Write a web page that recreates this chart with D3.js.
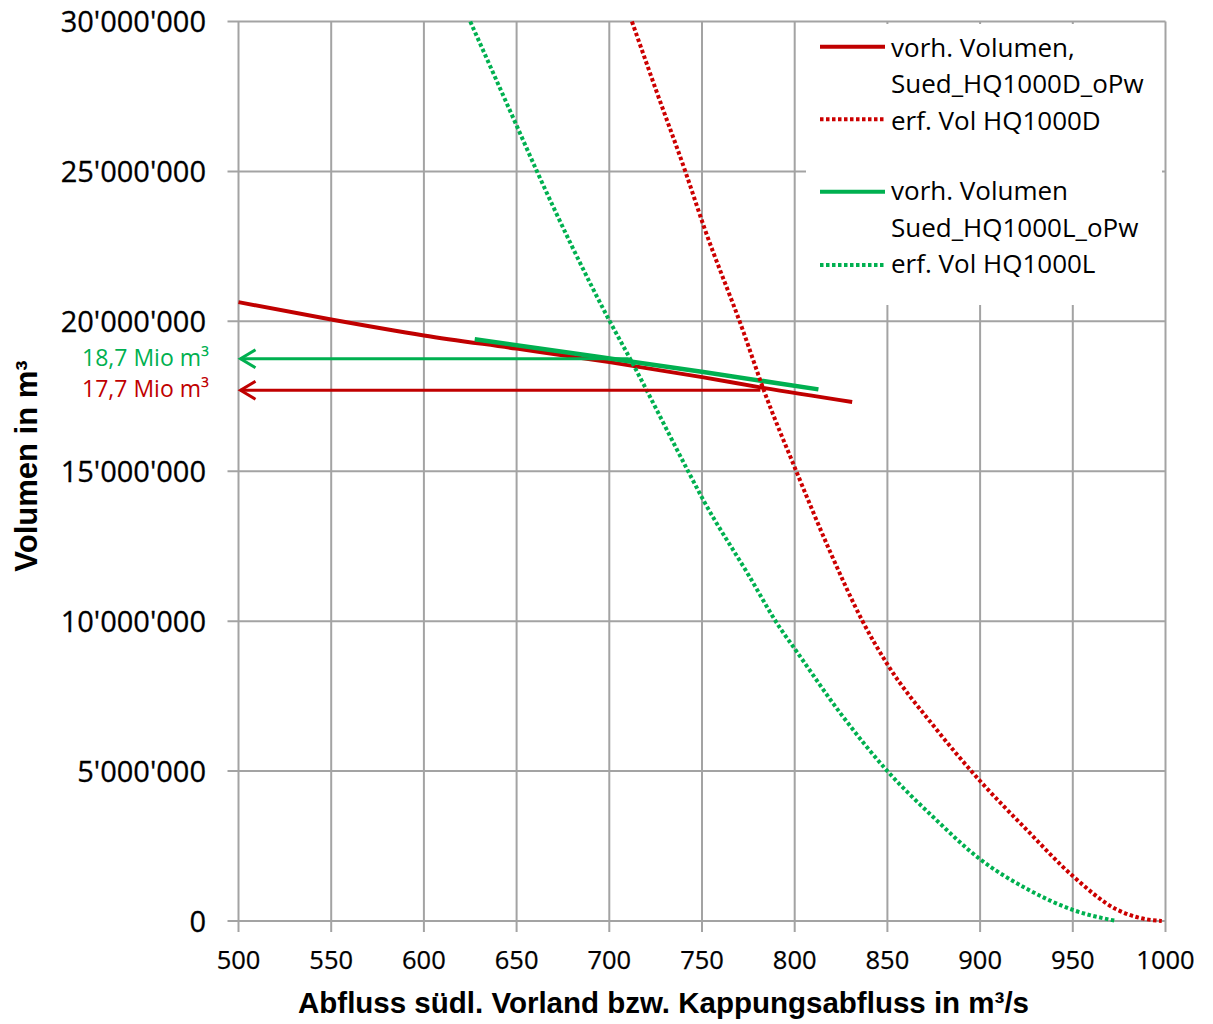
<!DOCTYPE html>
<html>
<head>
<meta charset="utf-8">
<script src="https://cdn.jsdelivr.net/npm/d3@7"></script>
<style>
  html, body { margin: 0; padding: 0; background: #fff; }
  svg { display: block; }
</style>
</head>
<body>
<svg id="chart" width="1213" height="1024"></svg>
<script>
// ---------- DATA ----------
const xTicks = [500, 550, 600, 650, 700, 750, 800, 850, 900, 950, 1000];
const yTicks = [0, 5000000, 10000000, 15000000, 20000000, 25000000, 30000000];

// vorh. Volumen, Sued_HQ1000D_oPw (red solid)
const redSolidX = [500, 550, 600, 650, 700, 750, 783, 831];
const redSolidY = [20640000, 20060000, 19530000, 19090000, 18640000, 18140000, 17780000, 17310000];

// erf. Vol HQ1000D (red dotted)
const redDotX = [712.2, 725, 741, 750.8, 772.4, 783, 801, 819, 836.6, 850, 875, 900, 925, 950, 973.5, 985, 998];
const redDotY = [30000000, 27750000, 25000000, 23200000, 19640000, 17760000, 14980000, 12330000, 10000000, 8560000, 6500000, 4670000, 3050000, 1500000, 390000, 120000, 0];

// vorh. Volumen Sued_HQ1000L_oPw (green solid)
const greenSolidX = [627.4, 694.7, 750.7, 812.8];
const greenSolidY = [19400000, 18810000, 18310000, 17730000];

// erf. Vol HQ1000L (green dotted)
const greenDotX = [625, 650, 661, 700, 712.2, 742.7, 750.8, 775, 792, 800, 825, 850, 875, 900, 925, 950, 973.5];
const greenDotY = [30000000, 26530000, 25000000, 20030000, 18640000, 14980000, 14030000, 11550000, 9780000, 9080000, 6900000, 5000000, 3450000, 2060000, 1080000, 370000, 0];

// reading arrows
const arrowLabels = ["18,7 Mio m³", "17,7 Mio m³"];
const arrowValues = [18750000, 17700000];
const arrowEndX = [710.5, 781.5];

const legendLabels = [
  ["vorh. Volumen,", "Sued_HQ1000D_oPw"],
  ["erf. Vol HQ1000D"],
  ["vorh. Volumen", "Sued_HQ1000L_oPw"],
  ["erf. Vol HQ1000L"]
];

// ---------- STYLE ----------
const RED = "#c00000", RED_DOT = "#cc0000", GREEN = "#00b050";
const GRID = "#a3a3a3";
const FONT = "'Open Sans', 'Noto Sans', sans-serif";
const BOLD = "'Liberation Sans', Arial, sans-serif";

const svg = d3.select("#chart");
svg.append("rect").attr("width", 1213).attr("height", 1024).attr("fill", "#fff");

const x = d3.scaleLinear().domain([500, 1000]).range([238.5, 1165.5]);
const y = d3.scaleLinear().domain([0, 30000000]).range([921, 21.5]);

// grid
const g = svg.append("g");
g.selectAll(".hg").data(yTicks).join("line")
  .attr("x1", x(500) - 11).attr("x2", x(1000))
  .attr("y1", d => y(d)).attr("y2", d => y(d))
  .attr("stroke", GRID).attr("stroke-width", 2);
g.selectAll(".vg").data(xTicks).join("line")
  .attr("x1", d => x(d)).attr("x2", d => x(d))
  .attr("y1", y(30000000)).attr("y2", y(0) + 11)
  .attr("stroke", GRID).attr("stroke-width", 2);

// y tick labels
const fmt = v => d3.format(",")(v).replace(/,/g, "'");
g.selectAll(".yl").data(yTicks).join("text")
  .attr("x", 206).attr("y", d => y(d) + 10.5)
  .attr("text-anchor", "end")
  .attr("font-family", FONT).attr("font-size", 29).attr("fill", "#000")
  .attr("stroke", "#000").attr("stroke-width", 0.3)
  .text(d => fmt(d));

// x tick labels
g.selectAll(".xl").data(xTicks).join("text")
  .attr("x", d => x(d)).attr("y", 968.5)
  .attr("text-anchor", "middle")
  .attr("font-family", FONT).attr("font-size", 25.5).attr("fill", "#000")
  .attr("stroke", "#000").attr("stroke-width", 0.25)
  .text(d => d);

// axis titles
svg.append("text")
  .attr("x", 663.5).attr("y", 1013)
  .attr("text-anchor", "middle")
  .attr("font-family", BOLD).attr("font-weight", "bold").attr("font-size", 29.5)
  .text("Abfluss südl. Vorland bzw. Kappungsabfluss in m³/s");
svg.append("text")
  .attr("transform", "translate(37,466) rotate(-90)")
  .attr("text-anchor", "middle")
  .attr("font-family", BOLD).attr("font-weight", "bold").attr("font-size", 31)
  .text("Volumen in m³");

// legend background
svg.append("rect").attr("x", 806).attr("y", 24).attr("width", 356).attr("height", 281).attr("fill", "#fff");

// series
const line = d3.line().x(d => x(d[0])).y(d => y(d[1])).curve(d3.curveMonotoneX);
const zip = (a, b) => a.map((v, i) => [v, b[i]]);

svg.append("path").datum(zip(redSolidX, redSolidY)).attr("d", line)
  .attr("fill", "none").attr("stroke", RED).attr("stroke-width", 4);
svg.append("path").datum(zip(greenSolidX, greenSolidY)).attr("d", line)
  .attr("fill", "none").attr("stroke", GREEN).attr("stroke-width", 4.5);
svg.append("path").datum(zip(redDotX, redDotY)).attr("d", line)
  .attr("fill", "none").attr("stroke", RED_DOT).attr("stroke-width", 4)
  .attr("stroke-dasharray", "3.5,2.5");
svg.append("path").datum(zip(greenDotX, greenDotY)).attr("d", line)
  .attr("fill", "none").attr("stroke", GREEN).attr("stroke-width", 4)
  .attr("stroke-dasharray", "3.5,2.5");

// arrows
const arrowColors = [GREEN, RED];
arrowValues.forEach((v, i) => {
  const yy = y(v), x0 = x(500) + 2, x1 = x(arrowEndX[i]);
  svg.append("line").attr("x1", x0).attr("x2", x1).attr("y1", yy).attr("y2", yy)
    .attr("stroke", arrowColors[i]).attr("stroke-width", 3);
  svg.append("path")
    .attr("d", `M${x0 + 15},${yy - 9}L${x0},${yy}L${x0 + 15},${yy + 9}`)
    .attr("fill", "none").attr("stroke", arrowColors[i]).attr("stroke-width", 3);
  svg.append("text")
    .attr("x", 209).attr("y", i === 0 ? 366 : 397)
    .attr("text-anchor", "end")
    .attr("font-family", FONT).attr("font-size", 23).attr("fill", arrowColors[i])
    .text(arrowLabels[i]);
});

// legend
const legendColors = [RED, RED_DOT, GREEN, GREEN];
const legendDash = [null, "3.5,2.5", null, "3.5,2.5"];
const legendLineY = [46.7, 119.3, 191.7, 265];
const legendBaselines = [[56.5, 93], [129.5], [200, 236.5], [272.5]];
legendLabels.forEach((lines, i) => {
  svg.append("line").attr("x1", 820).attr("x2", 885)
    .attr("y1", legendLineY[i]).attr("y2", legendLineY[i])
    .attr("stroke", legendColors[i]).attr("stroke-width", 4)
    .attr("stroke-dasharray", legendDash[i]);
  lines.forEach((t, j) => {
    svg.append("text").attr("x", 891).attr("y", legendBaselines[i][j])
      .attr("font-family", FONT).attr("font-size", 26).attr("fill", "#000")
      .text(t);
  });
});
</script>
</body>
</html>
